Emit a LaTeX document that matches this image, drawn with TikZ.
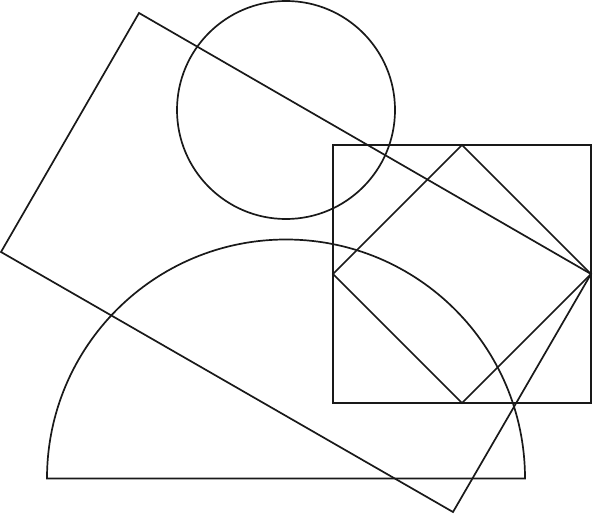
\documentclass[tikz,border=0pt]{standalone}
\usepackage{tikz}
\usetikzlibrary{positioning}

\begin{document}
\begin{tikzpicture}[x=10pt,y=10pt,line width=1.7pt,color=black!90]
\useasboundingbox (0,0) rectangle (59.3,51.5);
\draw (28.6,40.5) circle (10.9);
\draw (28.6-23.9,3.65) arc (180:0:23.9) -- cycle;
\draw (33.3,11.2) rectangle (59.1,37.0);
\draw (46.2,37.0) -- (59.1,24.1) -- (46.2,11.2) -- (33.3,24.1) -- cycle;
\draw (13.9,50.2) -- (59.1,24.1) -- (45.3,0.3) -- (0.1,26.3) -- cycle;
\end{tikzpicture}
\end{document}
